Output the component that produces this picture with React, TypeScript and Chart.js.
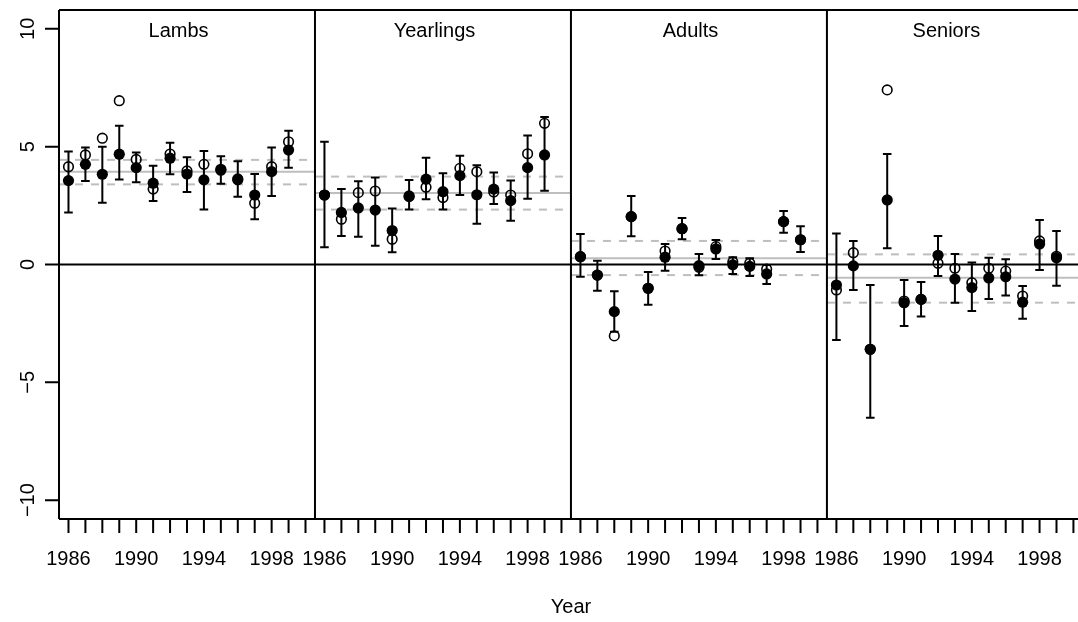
import React, { useEffect, useRef } from "react";
import { Chart, registerables } from "chart.js";

Chart.register(...registerables);

// ---------- data ----------
const years = [1986, 1987, 1988, 1989, 1990, 1991, 1992, 1993, 1994, 1995, 1996, 1997, 1998, 1999];
const panelNames = ["Lambs", "Yearlings", "Adults", "Seniors"];
const xTickYears = [1986, 1987, 1988, 1989, 1990, 1991, 1992, 1993, 1994, 1995, 1996, 1997, 1998, 1999, 2000];
const xLabelYears = [1986, 1990, 1994, 1998];
const yTicks = [-10, -5, 0, 5, 10];
const xAxisTitle = "Year";
const titleYear = 1992.5;

const lambsFilled = [3.56, 4.25, 3.83, 4.68, 4.11, 3.45, 4.51, 3.84, 3.59, 4.04, 3.63, 2.95, 3.94, 4.86];
const lambsOpen = [4.15, 4.65, 5.36, 6.95, 4.46, 3.2, 4.69, 3.97, 4.25, 4.0, 3.6, 2.6, 4.15, 5.21];
const lambsLow = [2.21, 3.54, 2.62, 3.61, 3.49, 2.7, 3.83, 3.08, 2.33, 3.43, 2.87, 1.92, 2.91, 4.11];
const lambsHigh = [4.79, 4.96, 5.0, 5.89, 4.75, 4.19, 5.17, 4.55, 4.82, 4.59, 4.38, 3.84, 4.96, 5.68];

const yearlingsFilled = [2.95, 2.21, 2.4, 2.31, 1.44, 2.91, 3.62, 3.09, 3.77, 2.96, 3.2, 2.71, 4.11, 4.65];
const yearlingsOpen = [2.95, 1.92, 3.05, 3.12, 1.07, 2.88, 3.28, 2.84, 4.08, 3.94, 3.08, 2.95, 4.7, 5.99];
const yearlingsLow = [0.73, 1.21, 1.18, 0.8, 0.52, 2.33, 2.77, 2.33, 2.95, 1.73, 2.57, 1.86, 2.79, 3.13];
const yearlingsHigh = [5.21, 3.2, 3.53, 3.69, 2.38, 3.59, 4.53, 3.87, 4.62, 4.21, 3.9, 3.56, 5.47, 6.26];

const adultsFilled = [0.33, -0.45, -2.0, 2.03, -1.01, 0.31, 1.52, -0.05, 0.66, -0.01, -0.08, -0.4, 1.82, 1.05];
const adultsOpen = [0.33, -0.45, -3.03, 2.03, -1.01, 0.57, 1.52, -0.12, 0.76, 0.11, 0.05, -0.2, 1.82, 1.05];
const adultsLow = [-0.52, -1.11, -2.85, 1.2, -1.71, -0.26, 1.07, -0.46, 0.23, -0.4, -0.49, -0.83, 1.35, 0.53];
const adultsHigh = [1.29, 0.16, -1.14, 2.91, -0.32, 0.87, 1.97, 0.45, 1.04, 0.31, 0.26, -0.02, 2.27, 1.62];

const seniorsFilled = [-0.87, -0.06, -3.6, 2.74, -1.62, -1.48, 0.39, -0.62, -0.98, -0.57, -0.52, -1.6, 0.87, 0.29];
const seniorsOpen = [-1.08, 0.5, -3.6, 7.41, -1.55, -1.48, 0.05, -0.16, -0.77, -0.16, -0.28, -1.34, 1.0, 0.35];
const seniorsLow = [-3.2, -1.08, -6.5, 0.69, -2.61, -2.21, -0.49, -1.62, -1.97, -1.46, -1.32, -2.3, -0.23, -0.9];
const seniorsHigh = [1.32, 1.0, -0.87, 4.69, -0.66, -0.74, 1.21, 0.45, 0.08, 0.29, 0.22, -0.91, 1.89, 1.42];

const panelMean = [3.94, 3.03, 0.26, -0.56];
const panelUpper = [4.44, 3.73, 1.0, 0.43];
const panelLower = [3.4, 2.33, -0.45, -1.62];

const filledSeries = [lambsFilled, yearlingsFilled, adultsFilled, seniorsFilled];
const openSeries = [lambsOpen, yearlingsOpen, adultsOpen, seniorsOpen];
const lowSeries = [lambsLow, yearlingsLow, adultsLow, seniorsLow];
const highSeries = [lambsHigh, yearlingsHigh, adultsHigh, seniorsHigh];

// ---------- layout constants ----------
const X0 = 1985.44; // panel left edge (year)
const W = 15.12; // panel width in years
const XMAX = 60.19; // visible part of the 4 panels
const YMIN = -10.8;
const YMAX = 10.8;
const FONT = '20px "Liberation Sans", Arial, Helvetica, sans-serif';
const GRAY = "#bebebe";

const px = (p: number, yr: number) => p * W + (yr - X0);

export default function App() {
  const ref = useRef<HTMLCanvasElement | null>(null);

  useEffect(() => {
    document.body.style.margin = "0";
    const canvas = ref.current;
    if (!canvas) return;

    const datasets: any[] = [];
    // reference lines per panel
    for (let p = 0; p < 4; p++) {
      const mk = (v: number, dash: number[]) => ({
        type: "line",
        data: [
          { x: p * W, y: v },
          { x: (p + 1) * W, y: v },
        ],
        borderColor: GRAY,
        borderWidth: 2,
        borderDash: dash,
        pointRadius: 0,
        order: 10,
      });
      datasets.push(mk(panelMean[p], []));
      datasets.push(mk(panelUpper[p], [8, 8]));
      datasets.push(mk(panelLower[p], [8, 8]));
    }
    // zero line
    datasets.push({
      type: "line",
      data: [
        { x: 0, y: 0 },
        { x: XMAX, y: 0 },
      ],
      borderColor: "#000",
      borderWidth: 2,
      pointRadius: 0,
      order: 9,
    });
    const openIndex = datasets.length;
    datasets.push({
      type: "scatter",
      label: "open",
      data: openSeries.flatMap((s, p) => s.map((v, i) => ({ x: px(p, years[i]), y: v }))),
      pointStyle: "circle",
      pointRadius: 4.8,
      borderColor: "#000",
      borderWidth: 1.6,
      backgroundColor: "rgba(0,0,0,0)",
      order: 2,
    });
    datasets.push({
      type: "scatter",
      label: "filled",
      data: filledSeries.flatMap((s, p) => s.map((v, i) => ({ x: px(p, years[i]), y: v }))),
      pointStyle: "circle",
      pointRadius: 5.6,
      borderColor: "#000",
      borderWidth: 0,
      backgroundColor: "#000",
      order: 1,
    });

    const errorBars = {
      id: "errorBars",
      beforeDatasetDraw(chart: any, args: any) {
        if (args.index !== openIndex) return;
        const { ctx, scales } = chart;
        const xs = scales.x;
        const ys = scales.y;
        ctx.save();
        ctx.strokeStyle = "#000";
        ctx.lineWidth = 2;
        for (let p = 0; p < 4; p++) {
          for (let i = 0; i < years.length; i++) {
            const x = xs.getPixelForValue(px(p, years[i]));
            const yl = ys.getPixelForValue(lowSeries[p][i]);
            const yh = ys.getPixelForValue(highSeries[p][i]);
            ctx.beginPath();
            ctx.moveTo(x, yl);
            ctx.lineTo(x, yh);
            ctx.moveTo(x - 4.3, yl);
            ctx.lineTo(x + 4.3, yl);
            ctx.moveTo(x - 4.3, yh);
            ctx.lineTo(x + 4.3, yh);
            ctx.stroke();
          }
        }
        ctx.restore();
      },
    };

    const frame = {
      id: "frame",
      afterDraw(chart: any) {
        const { ctx, scales, chartArea } = chart;
        const xs = scales.x;
        const ys = scales.y;
        const top = chartArea.top;
        const bottom = chartArea.bottom;
        const left = xs.getPixelForValue(0);
        const right = xs.getPixelForValue(4 * W);
        ctx.save();
        ctx.strokeStyle = "#000";
        ctx.fillStyle = "#000";
        ctx.lineWidth = 2;
        // outer box and panel separators
        ctx.beginPath();
        ctx.moveTo(left, top);
        ctx.lineTo(right, top);
        ctx.moveTo(left, bottom);
        ctx.lineTo(right, bottom);
        for (let p = 0; p <= 4; p++) {
          const x = xs.getPixelForValue(p * W);
          ctx.moveTo(x, top);
          ctx.lineTo(x, bottom);
        }
        ctx.stroke();

        ctx.font = FONT;
        // panel titles
        ctx.textAlign = "center";
        ctx.textBaseline = "alphabetic";
        panelNames.forEach((n, p) => {
          const cx = xs.getPixelForValue(px(p, titleYear));
          ctx.fillText(n, cx, top + 27);
        });

        // x ticks and labels
        ctx.beginPath();
        for (let p = 0; p < 4; p++) {
          for (const yr of xTickYears) {
            const x = xs.getPixelForValue(px(p, yr));
            ctx.moveTo(x, bottom);
            ctx.lineTo(x, bottom + 14);
          }
        }
        ctx.stroke();
        for (let p = 0; p < 4; p++) {
          for (const yr of xLabelYears) {
            const x = xs.getPixelForValue(px(p, yr));
            ctx.fillText(String(yr), x, bottom + 46);
          }
        }
        // x axis title
        ctx.fillText(xAxisTitle, (left + right) / 2, bottom + 94);

        // y ticks and labels
        ctx.beginPath();
        for (const v of yTicks) {
          const y = ys.getPixelForValue(v);
          ctx.moveTo(left - 14, y);
          ctx.lineTo(left, y);
        }
        ctx.stroke();
        for (const v of yTicks) {
          const y = ys.getPixelForValue(v);
          ctx.save();
          ctx.translate(left - 25, y);
          ctx.rotate(-Math.PI / 2);
          ctx.textAlign = "center";
          ctx.textBaseline = "alphabetic";
          ctx.fillText(v < 0 ? "\u2212" + Math.abs(v) : String(v), 0, 0);
          ctx.restore();
        }
        ctx.restore();
      },
    };

    const chart = new Chart(canvas, {
      type: "scatter",
      data: { datasets },
      options: {
        animation: false,
        responsive: false,
        devicePixelRatio: 1,
        layout: { autoPadding: false, padding: { left: 59, top: 10, right: 0, bottom: 103 } },
        plugins: { legend: { display: false }, tooltip: { enabled: false } },
        scales: {
          x: { type: "linear", min: 0, max: XMAX, display: false },
          y: { type: "linear", min: YMIN, max: YMAX, display: false },
        },
      },
      plugins: [errorBars, frame],
    } as any);

    return () => chart.destroy();
  }, []);

  return (
    <div style={{ width: 1078, height: 622, background: "#fff" }}>
      <canvas ref={ref} width={1078} height={622} style={{ width: 1078, height: 622, display: "block" }} />
    </div>
  );
}
